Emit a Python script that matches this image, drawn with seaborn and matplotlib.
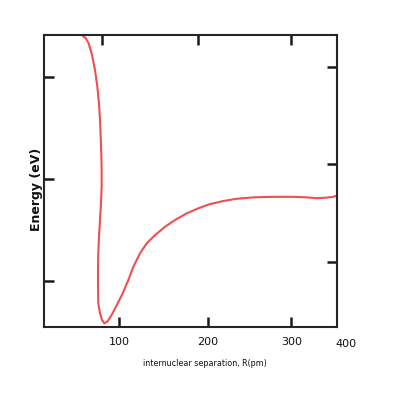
#!/usr/bin/env python3
"""
Curva de energia potencial (esboço) - energia vs separação internuclear
"""

import matplotlib
matplotlib.use('Agg')
import matplotlib.pyplot as plt
import seaborn as sns

r_pm = [57.9, 61.7, 64.8, 68.3, 72.2, 74.9, 76.8, 78.0, 78.8, 79.5, 79.9, 79.9,
        79.1, 78.0, 76.8, 76.0, 75.7, 75.7, 76.0, 78.0, 80.3, 83.0, 86.5, 90.4,
        96.5, 104.3, 110.9, 116.7, 124.4, 132.2, 141.8, 153.4, 165.0, 178.6,
        192.1, 205.6, 221.1, 236.6, 255.9, 279.1, 302.3, 317.8, 329.4, 341.0,
        348.7, 353.3]
energy_ev = [5.76, 5.67, 5.49, 5.13, 4.54, 3.94, 3.35, 2.75, 2.15, 1.56, 0.96, 0.37,
             -0.23, -0.82, -1.42, -2.01, -2.61, -3.20, -3.80, -4.15, -4.39, -4.51,
             -4.45, -4.27, -3.92, -3.44, -2.96, -2.49, -2.01, -1.65, -1.36, -1.06,
             -0.82, -0.58, -0.40, -0.25, -0.14, -0.06, -0.01, 0.01, 0.01, -0.01,
             -0.04, -0.02, 0.01, 0.06]

# Marcas desenhadas à mão (posições irregulares)
x_ticks_bottom = [100, 203, 300]
x_tick_labels = ['100', '200', '300']
x_end_label = '400'
x_ticks_top = [80.3, 191.7, 299.6]
y_ticks_left = [4.29, 0.64, -3.0]
y_ticks_right = [4.64, 1.18, -2.32]

sns.set_theme(style='white')
plt.rcParams['font.family'] = ['DejaVu Sans']

fig = plt.figure(figsize=(4.0, 4.07), dpi=100)
ax = fig.add_axes([0.11, 0.1966, 0.7325, 0.7174])

sns.lineplot(x=r_pm, y=energy_ev, sort=False, estimator=None,
             color='#ef4f4f', linewidth=1.5, ax=ax)

ax.set_xlim(13, 353)
ax.set_ylim(-4.64, 5.79)

for s in ax.spines.values():
    s.set_linewidth(1.5)
    s.set_color('#1a1a1a')

tick_kw = dict(direction='in', length=7, width=1.8, color='#1a1a1a')

ax.set_xticks(x_ticks_bottom)
ax.set_xticklabels(x_tick_labels, fontsize=8, color='#111111')
ax.set_yticks(y_ticks_left)
ax.set_yticklabels([])
ax.tick_params(axis='both', pad=7, **tick_kw)

# rótulo "400" no fim do eixo, sem marca
ax.text(1.03, -0.04, x_end_label, transform=ax.transAxes, ha='center', va='top',
        fontsize=8, color='#111111')

ax_top = ax.twiny()
ax_top.set_xlim(ax.get_xlim())
ax_top.set_xticks(x_ticks_top)
ax_top.set_xticklabels([])
ax_top.tick_params(axis='x', **tick_kw)

ax_right = ax.twinx()
ax_right.set_ylim(ax.get_ylim())
ax_right.set_yticks(y_ticks_right)
ax_right.set_yticklabels([])
ax_right.tick_params(axis='y', **tick_kw)

ax.set_xlabel('internuclear separation, R(pm)', fontsize=5.8, color='#111111')
ax.xaxis.set_label_coords(0.55, -0.11)
ax.set_ylabel('Energy (eV)', fontsize=9, fontweight='semibold', color='#111111')
ax.yaxis.set_label_coords(-0.005, 0.47)

fig.savefig('out.png', dpi=100)
plt.close(fig)
